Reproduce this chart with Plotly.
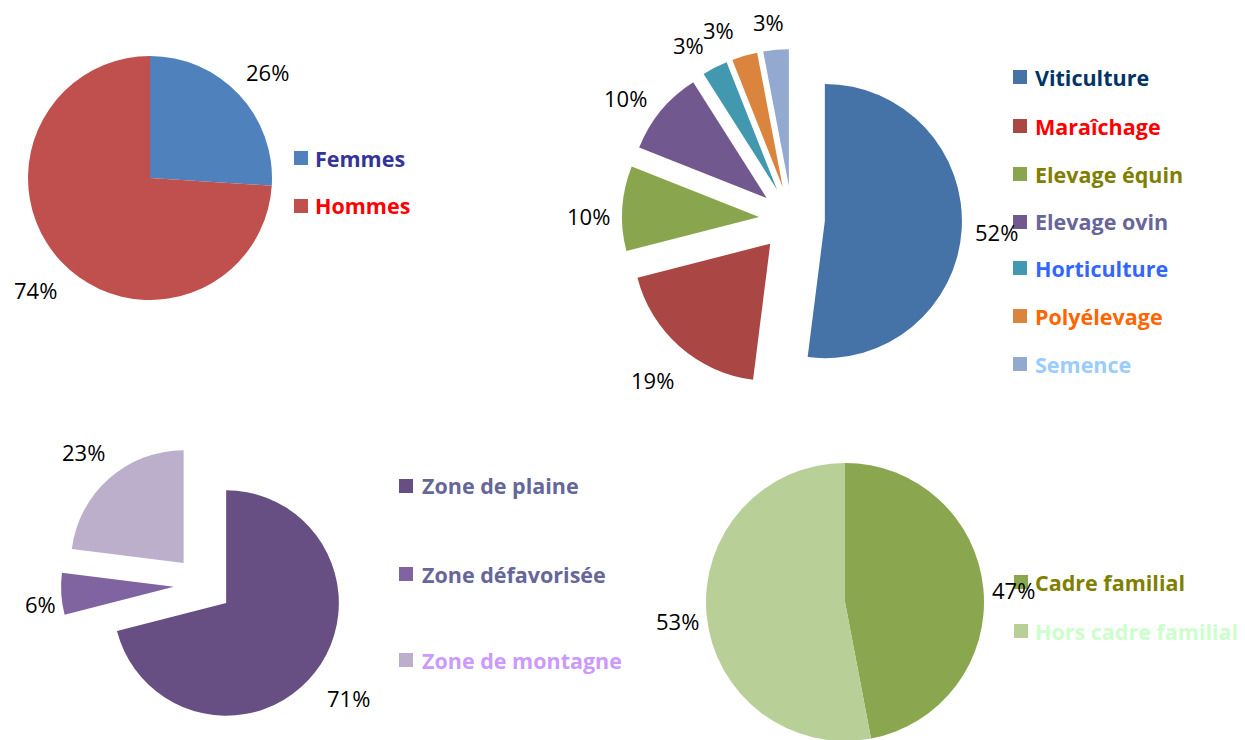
import plotly.graph_objects as go

W, H = 1245, 740
OFF = 8  # page body margin in pixels

# ---- data ----
sexe_labels = ["Femmes", "Hommes"]
sexe_values = [26, 74]

filiere_labels = ["Viticulture", "Maraîchage", "Elevage équin", "Elevage ovin",
                  "Horticulture", "Polyélevage", "Semence"]
filiere_values = [52, 19, 10, 10, 3, 3, 3]

zone_labels = ["Zone de plaine", "Zone défavorisée", "Zone de montagne"]
zone_values = [71, 6, 23]

cadre_labels = ["Cadre familial", "Hors cadre familial"]
cadre_values = [47, 53]

# ---- styles ----
sexe_colors = ["#4F81BD", "#C0504D"]
sexe_text = ["#333399", "#FF0000"]
filiere_colors = ["#4572A7", "#AA4643", "#89A54E", "#71588F", "#4198AF", "#DB843D", "#93A9CF"]
filiere_text = ["#003366", "#FF0000", "#808000", "#666699", "#3366FF", "#FF6600", "#99CCFF"]
zone_colors = ["#684F83", "#8064A2", "#BBAFCB"]
zone_text = ["#666699", "#666699", "#CC99FF"]
cadre_colors = ["#8AA64F", "#B8CF97"]
cadre_text = ["#808000", "#CCFFCC"]

FONT = "'Open Sans', Lato, sans-serif"


def px(x, y):
    return (x - OFF) / W, 1 - (y - OFF) / H


def dom(x0, x1, y0, y1):
    return dict(x=[(x0 - OFF) / W, (x1 - OFF) / W],
                y=[max(0, 1 - (y1 - OFF) / H), min(1, 1 - (y0 - OFF) / H)])


fig = go.Figure()

pies = [
    (sexe_labels, sexe_values, sexe_colors, 0, dom(28, 272, 56, 300)),
    (filiere_labels, filiere_values, filiere_colors, 0.24, dom(622, 962, 49, 389)),
    (zone_labels, zone_values, zone_colors, 0.26, dom(61, 345, 443, 727)),
    (cadre_labels, cadre_values, cadre_colors, 0, dom(706, 984, 462, 742)),
]
for labels, values, colors, pull, d in pies:
    fig.add_trace(go.Pie(
        labels=labels, values=values, sort=False, direction="clockwise",
        rotation=0, pull=pull, textinfo="none", showlegend=False,
        marker=dict(colors=colors, line=dict(width=0)), domain=d,
        hoverinfo="label+percent",
    ))

annotations = []
shapes = []

# percentage labels (positions in pixels)
label_pos = [
    (sexe_values, [(267, 72), (35, 290)]),
    (filiere_values, [(996, 232), (652, 380), (588, 216), (625, 98), (688, 45), (718, 30), (768, 22)]),
    (zone_values, [(348, 698), (40, 604), (83, 452)]),
    (cadre_values, [(1013, 590), (677, 621)]),
]
for values, poss in label_pos:
    for v, (x, y) in zip(values, poss):
        ax, ay = px(x, y)
        annotations.append(dict(x=ax, y=ay, xref="paper", yref="paper",
                                text=f"{v}%", showarrow=False,
                                font=dict(family=FONT, size=22, color="#000000"),
                                xanchor="center", yanchor="middle"))

# custom legends
legends = [
    (sexe_labels, sexe_colors, sexe_text, 301, 316, [158, 206]),
    (filiere_labels, filiere_colors, filiere_text, 1020, 1036, [77, 126, 174, 222, 268, 316, 364]),
    (zone_labels, zone_colors, zone_text, 406, 423, [486, 574, 660]),
    (cadre_labels, cadre_colors, cadre_text, 1021, 1036, [582, 631]),
]
for labels, colors, tcols, sx, tx, ys in legends:
    for lab, c, tc, y in zip(labels, colors, tcols, ys):
        x0, y0 = px(sx - 7, y + 7)
        x1, y1 = px(sx + 7, y - 7)
        shapes.append(dict(type="rect", xref="paper", yref="paper",
                           x0=x0, x1=x1, y0=y0, y1=y1,
                           fillcolor=c, line=dict(width=0)))
        ax, ay = px(tx - 3, y)
        annotations.append(dict(x=ax, y=ay, xref="paper", yref="paper",
                                text=f"<b>{lab}</b>", showarrow=False,
                                font=dict(family=FONT, size=21.5, color=tc),
                                xanchor="left", yanchor="middle"))

fig.update_layout(
    width=W, height=H, margin=dict(l=0, r=0, t=0, b=0),
    paper_bgcolor="white", plot_bgcolor="white",
    annotations=annotations, shapes=shapes,
    font=dict(family=FONT),
)

fig.write_html("out.html")
